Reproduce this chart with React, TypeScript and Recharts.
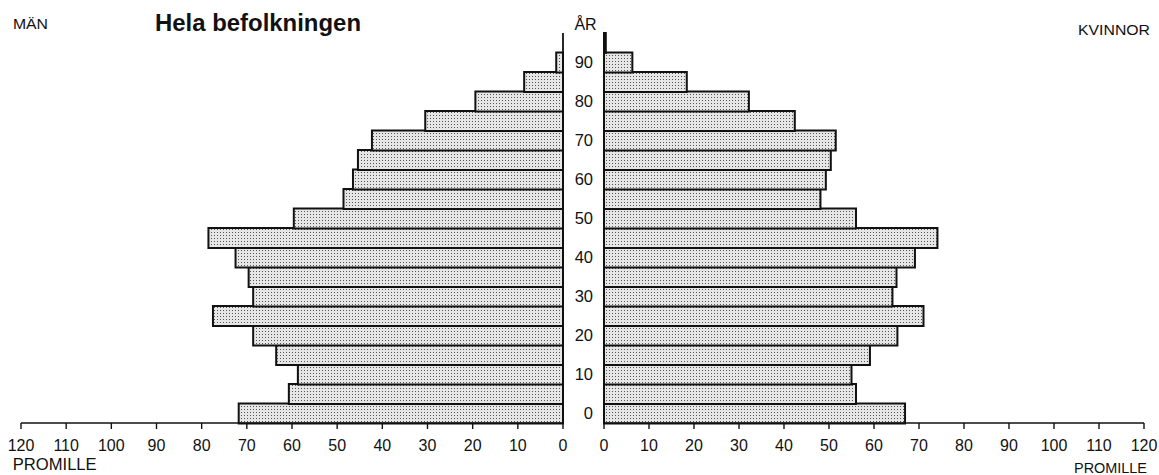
import React from 'react';
import { BarChart, Bar, XAxis, YAxis, ReferenceLine } from 'recharts';

// age group start (0 = 0-4 år, 5 = 5-9 år, ...)
const ages = [0, 5, 10, 15, 20, 25, 30, 35, 40, 45, 50, 55, 60, 65, 70, 75, 80, 85, 90, 95];
// promille per age group
const men = [71.8, 60.7, 58.7, 63.5, 68.6, 77.5, 68.6, 69.6, 72.5, 78.5, 59.6, 48.6, 46.5, 45.4, 42.3, 30.5, 19.4, 8.6, 1.5, 0];
const women = [66.9, 56.0, 55.0, 59.1, 65.2, 71.0, 64.1, 65.0, 69.1, 74.1, 56.0, 48.1, 49.3, 50.4, 51.5, 42.4, 32.2, 18.4, 6.3, 0.4];
const promilleTicks = [0, 10, 20, 30, 40, 50, 60, 70, 80, 90, 100, 110, 120];

const rows = ages.map((age, i) => ({ age, men: men[i], women: women[i] }));

const FONT = '"Liberation Sans", Arial, Helvetica, sans-serif';
const INK = '#111';

const Dots = ({ id }: { id: string }) => (
  <defs>
    <pattern id={id} width="3" height="3" patternUnits="userSpaceOnUse">
      <rect width="3" height="3" fill="#e6e6e6" />
      <rect x="1" y="1" width="1" height="1" fill="#555" />
    </pattern>
  </defs>
);

const tickStyle = { fontSize: 16, fill: INK, fontFamily: FONT };

export default function App() {
  return (
    <div style={{ position: 'absolute', left: 0, top: 0, width: 1159, height: 475, background: '#fff', fontFamily: FONT }}>
      {/* män */}
      <div style={{ position: 'absolute', left: 0, top: 0 }}>
        <BarChart
          width={580}
          height={475}
          data={rows}
          layout="vertical"
          barCategoryGap={0}
          margin={{ top: 33, right: 17, left: 21, bottom: 22 }}
        >
          <Dots id="dotsMen" />
          <XAxis
            type="number"
            domain={[0, 120]}
            ticks={promilleTicks}
            reversed
            height={30}
            tickSize={6}
            tickMargin={11}
            axisLine={{ stroke: INK, strokeWidth: 1.4 }}
            tickLine={{ stroke: INK, strokeWidth: 1.4 }}
            tick={tickStyle}
          />
          <YAxis type="category" dataKey="age" reversed hide />
          <Bar dataKey="men" fill="url(#dotsMen)" stroke={INK} strokeWidth={2} isAnimationActive={false} />
          <ReferenceLine x={0} stroke={INK} strokeWidth={1.8} />
        </BarChart>
      </div>

      {/* kvinnor */}
      <div style={{ position: 'absolute', left: 560, top: 0 }}>
        <BarChart
          width={599}
          height={475}
          data={rows}
          layout="vertical"
          barCategoryGap={0}
          margin={{ top: 33, right: 15, left: 0, bottom: 22 }}
        >
          <Dots id="dotsWomen" />
          <XAxis
            type="number"
            domain={[0, 120]}
            ticks={promilleTicks}
            height={30}
            tickSize={6}
            tickMargin={11}
            axisLine={{ stroke: INK, strokeWidth: 1.4 }}
            tickLine={{ stroke: INK, strokeWidth: 1.4 }}
            tick={tickStyle}
          />
          <YAxis
            type="category"
            dataKey="age"
            reversed
            width={44}
            interval={0}
            axisLine={false}
            tickLine={false}
            tickSize={0}
            tickMargin={11}
            tickFormatter={(v) => (v % 10 === 0 ? String(v) : '')}
            tick={{ fontSize: 16.5, fill: INK, fontFamily: FONT }}
          />
          <Bar dataKey="women" fill="url(#dotsWomen)" stroke={INK} strokeWidth={2} isAnimationActive={false} />
          <ReferenceLine x={0} stroke={INK} strokeWidth={1.8} />
        </BarChart>
      </div>

      <svg width={1159} height={475} style={{ position: 'absolute', left: 0, top: 0, pointerEvents: 'none' }}>
        <g fontFamily={FONT} fill={INK}>
          <text x={13} y={28.5} fontSize={14.5} textLength={35} lengthAdjust="spacingAndGlyphs">MÄN</text>
          <text x={155} y={30.5} fontSize={23.5} fontWeight="bold" textLength={206} lengthAdjust="spacingAndGlyphs">
            Hela befolkningen
          </text>
          <text x={585.5} y={30} fontSize={16} textAnchor="middle">ÅR</text>
          <text x={1078} y={35} fontSize={14.5} textLength={72} lengthAdjust="spacingAndGlyphs">KVINNOR</text>
          <text x={12.7} y={470} fontSize={16} textLength={84} lengthAdjust="spacingAndGlyphs">PROMILLE</text>
          <text x={1074} y={473} fontSize={15} textLength={73} lengthAdjust="spacingAndGlyphs">PROMILLE</text>
        </g>
      </svg>
    </div>
  );
}
